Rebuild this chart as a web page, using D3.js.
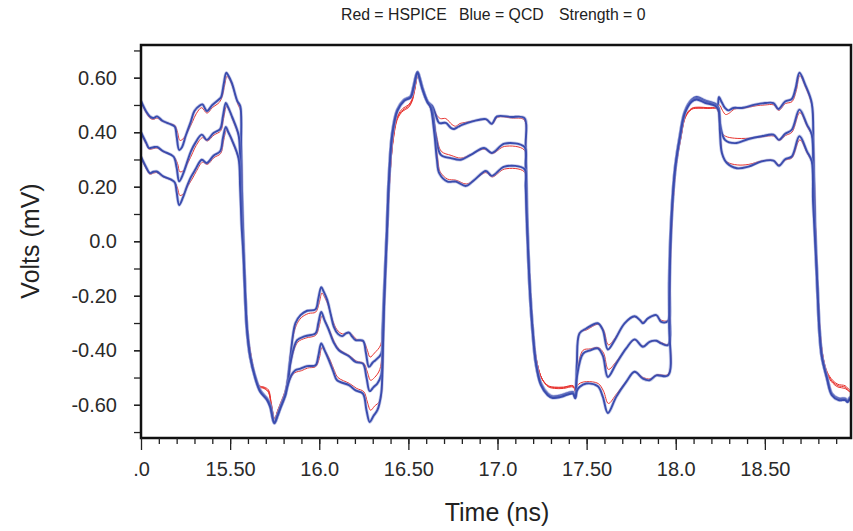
<!DOCTYPE html>
<html>
<head>
<meta charset="utf-8">
<script src="https://cdn.jsdelivr.net/npm/d3@7/dist/d3.min.js"></script>
<style>
  body { margin: 0; background: #fff; }
  svg { display: block; font-family: "Liberation Sans", Arial, Helvetica, sans-serif; }
</style>
</head>
<body>
<div class="chart"></div>
<script>
// waveforms: [time (ns), volts]
const qcdHigh = [
  [15.0, 0.515], [15.03, 0.475], [15.05, 0.458], [15.07, 0.452], [15.09, 0.458], [15.12, 0.442],
  [15.17, 0.428], [15.19, 0.42], [15.2, 0.385], [15.214, 0.335], [15.23, 0.345], [15.25, 0.385],
  [15.28, 0.44], [15.3, 0.478], [15.33, 0.498], [15.345, 0.502], [15.37, 0.478], [15.4, 0.5],
  [15.44, 0.522], [15.45, 0.53], [15.465, 0.58], [15.478, 0.618], [15.49, 0.608], [15.51, 0.58],
  [15.54, 0.515], [15.557, 0.495], [15.562, 0.35], [15.568, 0.15], [15.575, 0.0], [15.585, -0.204],
  [15.595, -0.326], [15.613, -0.424], [15.641, -0.498], [15.669, -0.547], [15.707, -0.577],
  [15.725, -0.6], [15.748, -0.667], [15.765, -0.64], [15.782, -0.608], [15.81, -0.559],
  [15.825, -0.5], [15.838, -0.424], [15.866, -0.301], [15.895, -0.271], [15.932, -0.255],
  [15.979, -0.25], [15.995, -0.21], [16.011, -0.169], [16.025, -0.185], [16.045, -0.216],
  [16.065, -0.27], [16.082, -0.314], [16.105, -0.34], [16.129, -0.348], [16.15, -0.338],
  [16.167, -0.335], [16.185, -0.35], [16.204, -0.363], [16.245, -0.365], [16.262, -0.41],
  [16.279, -0.461], [16.3, -0.445], [16.316, -0.436], [16.348, -0.412], [16.355, -0.33],
  [16.363, -0.204], [16.372, -0.08], [16.38, 0.04], [16.391, 0.225], [16.41, 0.397],
  [16.438, 0.483], [16.476, 0.519], [16.513, 0.532], [16.53, 0.57], [16.551, 0.621],
  [16.565, 0.595], [16.579, 0.562], [16.607, 0.513], [16.635, 0.495], [16.655, 0.46],
  [16.673, 0.434], [16.71, 0.434], [16.74, 0.415], [16.757, 0.412], [16.78, 0.42], [16.804, 0.428],
  [16.86, 0.44], [16.935, 0.448], [16.968, 0.431], [16.997, 0.458], [17.076, 0.456], [17.151, 0.452],
  [17.158, 0.35], [17.163, 0.2], [17.168, 0.04], [17.176, -0.1], [17.184, -0.204], [17.197, -0.326],
  [17.216, -0.449], [17.244, -0.522], [17.282, -0.559], [17.31, -0.569], [17.357, -0.565],
  [17.423, -0.553], [17.436, -0.571], [17.445, -0.45], [17.46, -0.338], [17.498, -0.32],
  [17.563, -0.301], [17.591, -0.326], [17.619, -0.397], [17.657, -0.363], [17.713, -0.301],
  [17.769, -0.275], [17.8, -0.29], [17.816, -0.301], [17.844, -0.283], [17.891, -0.271],
  [17.919, -0.296], [17.957, -0.292], [17.963, -0.15], [17.97, 0.0], [17.985, 0.18],
  [17.999, 0.28], [18.023, 0.385], [18.051, 0.476], [18.089, 0.519], [18.117, 0.529],
  [18.164, 0.517], [18.22, 0.505], [18.235, 0.5], [18.242, 0.529], [18.258, 0.51], [18.276, 0.489],
  [18.295, 0.48], [18.323, 0.489], [18.37, 0.489], [18.445, 0.501], [18.501, 0.507],
  [18.548, 0.507], [18.576, 0.485], [18.614, 0.513], [18.651, 0.522], [18.672, 0.56],
  [18.694, 0.618], [18.726, 0.575], [18.763, 0.507], [18.772, 0.35], [18.777, 0.2], [18.782, 0.04],
  [18.797, -0.204], [18.806, -0.326], [18.82, -0.424], [18.848, -0.498], [18.876, -0.559],
  [18.914, -0.577], [18.951, -0.577], [18.964, -0.586], [18.975, -0.575], [19.0, -0.562]
];

const qcdMid = [
  [15.0, 0.4], [15.03, 0.36], [15.045, 0.342], [15.07, 0.345], [15.09, 0.346], [15.125, 0.33],
  [15.182, 0.311], [15.2, 0.27], [15.214, 0.22], [15.235, 0.245], [15.257, 0.287], [15.28, 0.33],
  [15.304, 0.36], [15.341, 0.391], [15.369, 0.372], [15.407, 0.397], [15.444, 0.412],
  [15.46, 0.46], [15.476, 0.507], [15.49, 0.49], [15.51, 0.458], [15.547, 0.391], [15.555, 0.33],
  [15.562, 0.2], [15.57, 0.04], [15.585, -0.204], [15.595, -0.326], [15.613, -0.424],
  [15.641, -0.5], [15.669, -0.55], [15.707, -0.58], [15.725, -0.605], [15.748, -0.667],
  [15.765, -0.64], [15.782, -0.61], [15.81, -0.562], [15.825, -0.52], [15.838, -0.449],
  [15.876, -0.363], [15.922, -0.348], [15.979, -0.338], [15.995, -0.3], [16.011, -0.259],
  [16.03, -0.29], [16.054, -0.326], [16.08, -0.37], [16.11, -0.4], [16.167, -0.422],
  [16.204, -0.443], [16.245, -0.449], [16.265, -0.5], [16.283, -0.55], [16.305, -0.535],
  [16.326, -0.522], [16.348, -0.49], [16.356, -0.38], [16.363, -0.22], [16.372, -0.08],
  [16.38, 0.04], [16.391, 0.225], [16.41, 0.395], [16.438, 0.48], [16.476, 0.517],
  [16.513, 0.53], [16.53, 0.568], [16.551, 0.62], [16.565, 0.594], [16.579, 0.56],
  [16.607, 0.512], [16.63, 0.49], [16.654, 0.385], [16.682, 0.317], [16.738, 0.305],
  [16.794, 0.299], [16.85, 0.317], [16.925, 0.342], [16.968, 0.324], [17.039, 0.358],
  [17.151, 0.346], [17.158, 0.28], [17.163, 0.15], [17.168, 0.04], [17.176, -0.1],
  [17.184, -0.204], [17.197, -0.326], [17.216, -0.449], [17.244, -0.525], [17.282, -0.562],
  [17.31, -0.572], [17.357, -0.568], [17.423, -0.556], [17.436, -0.573], [17.445, -0.5],
  [17.48, -0.412], [17.52, -0.4], [17.563, -0.393], [17.591, -0.42], [17.619, -0.498],
  [17.666, -0.449], [17.722, -0.393], [17.769, -0.36], [17.816, -0.387], [17.853, -0.369],
  [17.891, -0.365], [17.919, -0.375], [17.957, -0.381], [17.963, -0.2], [17.97, 0.0],
  [17.985, 0.18], [17.999, 0.28], [18.023, 0.383], [18.051, 0.473], [18.089, 0.515],
  [18.117, 0.524], [18.164, 0.512], [18.22, 0.5], [18.24, 0.49], [18.248, 0.434],
  [18.276, 0.372], [18.332, 0.36], [18.408, 0.375], [18.482, 0.385], [18.548, 0.391],
  [18.579, 0.372], [18.614, 0.394], [18.651, 0.409], [18.694, 0.483], [18.736, 0.428],
  [18.763, 0.391], [18.772, 0.25], [18.782, 0.04], [18.797, -0.204], [18.806, -0.326],
  [18.82, -0.424], [18.848, -0.5], [18.876, -0.562], [18.914, -0.58], [18.951, -0.58],
  [18.964, -0.588], [18.975, -0.578], [19.0, -0.565]
];

const qcdLow = [
  [15.0, 0.31], [15.03, 0.27], [15.05, 0.25], [15.07, 0.255], [15.088, 0.256], [15.125, 0.238],
  [15.172, 0.225], [15.19, 0.215], [15.2, 0.18], [15.214, 0.133], [15.235, 0.16], [15.257, 0.2],
  [15.28, 0.235], [15.304, 0.262], [15.341, 0.299], [15.369, 0.287], [15.407, 0.314],
  [15.444, 0.33], [15.46, 0.38], [15.476, 0.419], [15.49, 0.4], [15.51, 0.372], [15.547, 0.305],
  [15.556, 0.2], [15.565, 0.05], [15.575, -0.05], [15.585, -0.204], [15.595, -0.326],
  [15.613, -0.424], [15.641, -0.502], [15.669, -0.552], [15.707, -0.582], [15.725, -0.608],
  [15.748, -0.667], [15.765, -0.642], [15.782, -0.612], [15.81, -0.565], [15.82, -0.535],
  [15.845, -0.49], [15.866, -0.473], [15.895, -0.467], [15.932, -0.458], [15.979, -0.455],
  [15.995, -0.42], [16.011, -0.375], [16.03, -0.4], [16.054, -0.436], [16.08, -0.48],
  [16.1, -0.51], [16.167, -0.528], [16.204, -0.547], [16.245, -0.559], [16.265, -0.62],
  [16.283, -0.663], [16.305, -0.64], [16.326, -0.62], [16.348, -0.557], [16.356, -0.42],
  [16.363, -0.25], [16.372, -0.09], [16.38, 0.04], [16.391, 0.225], [16.41, 0.393],
  [16.438, 0.478], [16.476, 0.515], [16.513, 0.528], [16.53, 0.566], [16.551, 0.619],
  [16.565, 0.592], [16.579, 0.558], [16.607, 0.51], [16.625, 0.49], [16.645, 0.4],
  [16.66, 0.3], [16.673, 0.25], [16.72, 0.219], [16.767, 0.219], [16.823, 0.203],
  [16.87, 0.225], [16.935, 0.258], [16.968, 0.24], [17.039, 0.274], [17.151, 0.265],
  [17.158, 0.2], [17.163, 0.1], [17.168, 0.02], [17.176, -0.1], [17.184, -0.204],
  [17.197, -0.326], [17.216, -0.449], [17.244, -0.528], [17.282, -0.565], [17.31, -0.575],
  [17.357, -0.571], [17.423, -0.559], [17.436, -0.576], [17.445, -0.55], [17.46, -0.535],
  [17.498, -0.522], [17.563, -0.532], [17.591, -0.571], [17.619, -0.63], [17.666, -0.571],
  [17.722, -0.516], [17.769, -0.479], [17.816, -0.504], [17.853, -0.51], [17.891, -0.492],
  [17.957, -0.492], [17.963, -0.3], [17.97, -0.02], [17.985, 0.18], [17.999, 0.28],
  [18.023, 0.38], [18.051, 0.47], [18.089, 0.512], [18.117, 0.52], [18.164, 0.508],
  [18.22, 0.497], [18.24, 0.48], [18.248, 0.4], [18.259, 0.324], [18.287, 0.287],
  [18.343, 0.268], [18.408, 0.274], [18.482, 0.293], [18.548, 0.296], [18.579, 0.277],
  [18.614, 0.301], [18.651, 0.311], [18.694, 0.385], [18.736, 0.33], [18.763, 0.293],
  [18.77, 0.15], [18.778, 0.05], [18.79, -0.1], [18.797, -0.204], [18.806, -0.326],
  [18.82, -0.424], [18.848, -0.502], [18.876, -0.565], [18.914, -0.583], [18.951, -0.583],
  [18.964, -0.59], [18.975, -0.58], [19.0, -0.568]
];

const hspiceHigh = [
  [15.0, 0.51], [15.03, 0.47], [15.05, 0.452], [15.07, 0.447], [15.09, 0.452], [15.12, 0.44],
  [15.17, 0.43], [15.19, 0.425], [15.205, 0.4], [15.218, 0.37], [15.235, 0.375], [15.26, 0.4],
  [15.29, 0.44], [15.31, 0.468], [15.34, 0.49], [15.37, 0.47], [15.4, 0.49], [15.44, 0.51],
  [15.455, 0.53], [15.47, 0.575], [15.482, 0.605], [15.495, 0.595], [15.515, 0.565],
  [15.545, 0.5], [15.558, 0.48], [15.564, 0.3], [15.57, 0.1], [15.578, -0.05], [15.588, -0.22],
  [15.6, -0.34], [15.62, -0.43], [15.645, -0.5], [15.665, -0.53], [15.69, -0.535],
  [15.715, -0.545], [15.73, -0.59], [15.75, -0.652], [15.767, -0.62], [15.785, -0.59],
  [15.81, -0.545], [15.83, -0.47], [15.845, -0.38], [15.87, -0.31], [15.9, -0.28],
  [15.94, -0.265], [15.98, -0.26], [16.0, -0.225], [16.015, -0.19], [16.03, -0.205],
  [16.05, -0.235], [16.075, -0.29], [16.1, -0.325], [16.13, -0.34], [16.17, -0.336],
  [16.21, -0.36], [16.25, -0.37], [16.27, -0.4], [16.285, -0.425], [16.31, -0.41],
  [16.345, -0.38], [16.356, -0.3], [16.365, -0.19], [16.374, -0.06], [16.383, 0.05],
  [16.395, 0.22], [16.415, 0.38], [16.44, 0.46], [16.47, 0.488], [16.5, 0.5], [16.52, 0.52],
  [16.535, 0.56], [16.553, 0.61], [16.567, 0.59], [16.582, 0.555], [16.61, 0.51],
  [16.638, 0.49], [16.66, 0.462], [16.68, 0.45], [16.71, 0.45], [16.745, 0.428],
  [16.765, 0.422], [16.79, 0.432], [16.82, 0.436], [16.87, 0.442], [16.935, 0.446],
  [16.97, 0.43], [17.0, 0.455], [17.08, 0.452], [17.15, 0.445], [17.158, 0.34],
  [17.164, 0.18], [17.17, 0.02], [17.18, -0.12], [17.188, -0.22], [17.2, -0.33],
  [17.22, -0.44], [17.25, -0.505], [17.285, -0.53], [17.32, -0.535], [17.37, -0.535],
  [17.425, -0.53], [17.438, -0.55], [17.447, -0.44], [17.462, -0.335], [17.5, -0.325],
  [17.565, -0.305], [17.595, -0.325], [17.622, -0.38], [17.66, -0.355], [17.715, -0.3],
  [17.77, -0.277], [17.815, -0.297], [17.845, -0.282], [17.89, -0.272], [17.92, -0.29],
  [17.957, -0.29], [17.965, -0.14], [17.973, 0.0], [17.988, 0.17], [18.003, 0.28],
  [18.028, 0.38], [18.055, 0.46], [18.09, 0.488], [18.13, 0.492], [18.18, 0.49],
  [18.23, 0.49], [18.245, 0.5], [18.262, 0.48], [18.28, 0.465], [18.3, 0.47], [18.33, 0.485],
  [18.38, 0.488], [18.45, 0.497], [18.5, 0.5], [18.55, 0.5], [18.578, 0.48], [18.615, 0.505],
  [18.652, 0.512], [18.675, 0.55], [18.696, 0.608], [18.728, 0.565], [18.765, 0.495],
  [18.774, 0.33], [18.78, 0.18], [18.786, 0.03], [18.8, -0.21], [18.81, -0.33],
  [18.825, -0.42], [18.85, -0.48], [18.88, -0.51], [18.91, -0.525], [18.95, -0.53],
  [18.975, -0.545], [19.0, -0.548]
];

const hspiceMid = [
  [15.0, 0.395], [15.03, 0.355], [15.045, 0.338], [15.07, 0.34], [15.09, 0.342], [15.125, 0.328],
  [15.182, 0.312], [15.205, 0.285], [15.218, 0.255], [15.24, 0.26], [15.265, 0.29],
  [15.29, 0.325], [15.31, 0.352], [15.345, 0.38], [15.372, 0.368], [15.41, 0.39],
  [15.447, 0.405], [15.463, 0.45], [15.48, 0.495], [15.495, 0.48], [15.515, 0.445],
  [15.55, 0.38], [15.558, 0.3], [15.566, 0.15], [15.574, 0.02], [15.588, -0.22], [15.6, -0.34],
  [15.62, -0.43], [15.645, -0.502], [15.665, -0.532], [15.69, -0.538], [15.715, -0.55],
  [15.73, -0.595], [15.75, -0.652], [15.767, -0.622], [15.785, -0.594], [15.81, -0.55],
  [15.83, -0.495], [15.845, -0.43], [15.88, -0.37], [15.925, -0.355], [15.98, -0.345],
  [16.0, -0.31], [16.015, -0.275], [16.035, -0.295], [16.06, -0.33], [16.085, -0.37],
  [16.115, -0.398], [16.17, -0.42], [16.21, -0.44], [16.25, -0.448], [16.27, -0.48],
  [16.288, -0.51], [16.31, -0.5], [16.34, -0.47], [16.357, -0.35], [16.366, -0.2],
  [16.375, -0.06], [16.383, 0.05], [16.395, 0.22], [16.415, 0.375], [16.44, 0.455],
  [16.47, 0.482], [16.5, 0.495], [16.52, 0.516], [16.535, 0.556], [16.553, 0.608],
  [16.567, 0.588], [16.582, 0.552], [16.61, 0.508], [16.633, 0.48], [16.657, 0.39],
  [16.685, 0.33], [16.74, 0.315], [16.795, 0.305], [16.85, 0.318], [16.925, 0.338],
  [16.97, 0.322], [17.04, 0.348], [17.15, 0.335], [17.158, 0.26], [17.164, 0.12],
  [17.17, 0.0], [17.18, -0.12], [17.188, -0.22], [17.2, -0.33], [17.22, -0.44],
  [17.25, -0.505], [17.285, -0.532], [17.32, -0.537], [17.37, -0.537], [17.425, -0.532],
  [17.438, -0.552], [17.448, -0.48], [17.48, -0.4], [17.52, -0.395], [17.565, -0.39],
  [17.595, -0.41], [17.622, -0.47], [17.668, -0.44], [17.725, -0.39], [17.77, -0.362],
  [17.818, -0.385], [17.855, -0.368], [17.893, -0.365], [17.92, -0.372], [17.957, -0.378],
  [17.965, -0.2], [17.973, 0.0], [17.988, 0.17], [18.003, 0.28], [18.028, 0.378],
  [18.055, 0.458], [18.09, 0.486], [18.13, 0.49], [18.18, 0.489], [18.23, 0.488],
  [18.245, 0.45], [18.256, 0.4], [18.28, 0.385], [18.33, 0.378], [18.41, 0.378],
  [18.485, 0.383], [18.55, 0.386], [18.58, 0.37], [18.616, 0.388], [18.652, 0.4],
  [18.696, 0.472], [18.738, 0.42], [18.765, 0.385], [18.774, 0.24], [18.786, 0.02],
  [18.8, -0.21], [18.81, -0.33], [18.825, -0.42], [18.85, -0.485], [18.88, -0.515],
  [18.91, -0.53], [18.95, -0.535], [18.975, -0.55], [19.0, -0.552]
];

const hspiceLow = [
  [15.0, 0.305], [15.03, 0.265], [15.05, 0.246], [15.07, 0.25], [15.088, 0.252], [15.125, 0.236],
  [15.172, 0.224], [15.19, 0.216], [15.205, 0.195], [15.218, 0.168], [15.24, 0.175],
  [15.265, 0.205], [15.29, 0.232], [15.31, 0.256], [15.345, 0.29], [15.372, 0.282],
  [15.41, 0.307], [15.447, 0.322], [15.463, 0.368], [15.48, 0.408], [15.495, 0.39],
  [15.515, 0.36], [15.55, 0.295], [15.558, 0.2], [15.566, 0.06], [15.578, -0.06],
  [15.588, -0.22], [15.6, -0.34], [15.62, -0.43], [15.645, -0.505], [15.665, -0.535],
  [15.69, -0.54], [15.715, -0.555], [15.73, -0.6], [15.75, -0.652], [15.767, -0.625],
  [15.785, -0.598], [15.81, -0.555], [15.825, -0.525], [15.85, -0.49], [15.87, -0.48],
  [15.9, -0.475], [15.935, -0.465], [15.98, -0.46], [16.0, -0.43], [16.015, -0.39],
  [16.035, -0.405], [16.06, -0.435], [16.085, -0.475], [16.105, -0.5], [16.17, -0.522],
  [16.21, -0.54], [16.25, -0.552], [16.27, -0.59], [16.288, -0.62], [16.31, -0.605],
  [16.34, -0.585], [16.355, -0.48], [16.363, -0.3], [16.374, -0.1], [16.383, 0.04],
  [16.395, 0.22], [16.415, 0.37], [16.44, 0.45], [16.47, 0.478], [16.5, 0.49],
  [16.52, 0.512], [16.535, 0.552], [16.553, 0.605], [16.567, 0.585], [16.582, 0.55],
  [16.61, 0.506], [16.628, 0.48], [16.648, 0.39], [16.665, 0.3], [16.678, 0.255],
  [16.72, 0.228], [16.767, 0.224], [16.825, 0.21], [16.87, 0.225], [16.935, 0.252],
  [16.97, 0.236], [17.04, 0.265], [17.15, 0.255], [17.158, 0.18], [17.164, 0.08],
  [17.17, -0.01], [17.18, -0.12], [17.188, -0.22], [17.2, -0.33], [17.22, -0.44],
  [17.25, -0.505], [17.285, -0.534], [17.32, -0.54], [17.37, -0.54], [17.425, -0.535],
  [17.438, -0.555], [17.447, -0.53], [17.465, -0.52], [17.5, -0.515], [17.565, -0.522],
  [17.595, -0.55], [17.622, -0.595], [17.668, -0.56], [17.725, -0.512], [17.77, -0.48],
  [17.818, -0.5], [17.855, -0.505], [17.893, -0.49], [17.957, -0.488], [17.965, -0.3],
  [17.973, -0.03], [17.988, 0.17], [18.003, 0.28], [18.028, 0.375], [18.055, 0.455],
  [18.09, 0.484], [18.13, 0.488], [18.18, 0.487], [18.23, 0.486], [18.245, 0.44],
  [18.253, 0.36], [18.265, 0.31], [18.29, 0.29], [18.345, 0.28], [18.41, 0.282],
  [18.485, 0.295], [18.55, 0.296], [18.58, 0.28], [18.616, 0.298], [18.652, 0.306],
  [18.696, 0.372], [18.738, 0.322], [18.765, 0.288], [18.772, 0.15], [18.78, 0.04],
  [18.79, -0.1], [18.8, -0.21], [18.81, -0.33], [18.825, -0.42], [18.85, -0.49],
  [18.88, -0.52], [18.91, -0.535], [18.95, -0.54], [18.975, -0.552], [19.0, -0.556]
];

const xMajorTicks = [15.0, 15.5, 16.0, 16.5, 17.0, 17.5, 18.0, 18.5];
const xTickLabels = [".0", "15.50", "16.0", "16.50", "17.0", "17.50", "18.0", "18.50"];
const yMajorTicks = [-0.6, -0.4, -0.2, 0.0, 0.2, 0.4, 0.6];
const yTickLabels = ["-0.60", "-0.40", "-0.20", "0.0", "0.20", "0.40", "0.60"];
const titleParts = ["Red = HSPICE", "Blue = QCD", "Strength = 0"];

const width = 853;
const height = 531;
const plot = { left: 141, right: 851, top: 45, bottom: 438 };

const svg = d3
  .select(".chart")
  .append("svg")
  .attr("width", width)
  .attr("height", height);

const xScale = d3.scaleLinear().domain([15, 19]).range([141, 854]);
const yScale = d3.scaleLinear().domain([-0.72, 0.72]).range([437.5, 45]);

// title, three pieces spaced like the original
const titleX = [341, 459, 559];
svg
  .append("text")
  .attr("y", 20)
  .style("font-size", "15.8px")
  .attr("fill", "#222")
  .selectAll("tspan")
  .data(titleParts)
  .enter()
  .append("tspan")
  .attr("x", (d, i) => titleX[i])
  .text((d) => d);

// curves
svg
  .append("clipPath")
  .attr("id", "plotclip")
  .append("rect")
  .attr("x", plot.left)
  .attr("y", plot.top)
  .attr("width", plot.right - plot.left)
  .attr("height", plot.bottom - plot.top);

const line = d3
  .line()
  .x((d) => xScale(d[0]))
  .y((d) => yScale(d[1]))
  .curve(d3.curveCatmullRom.alpha(0.5));

const curves = svg.append("g").attr("clip-path", "url(#plotclip)");

[hspiceHigh, hspiceMid, hspiceLow].forEach((s) => {
  curves
    .append("path")
    .datum(s)
    .attr("d", line)
    .attr("fill", "none")
    .attr("stroke", "#e8322e")
    .attr("stroke-width", 1);
});

[qcdHigh, qcdMid, qcdLow].forEach((s) => {
  curves
    .append("path")
    .datum(s)
    .attr("d", line)
    .attr("fill", "none")
    .attr("stroke", "#8f9ad6")
    .attr("stroke-opacity", 0.5)
    .attr("stroke-width", 3.4);
  curves
    .append("path")
    .datum(s)
    .attr("d", line)
    .attr("fill", "none")
    .attr("stroke", "#3a4cae")
    .attr("stroke-width", 1.9);
});

// frame
svg
  .append("rect")
  .attr("x", plot.left)
  .attr("y", plot.top)
  .attr("width", plot.right - plot.left)
  .attr("height", plot.bottom - plot.top)
  .attr("fill", "none")
  .attr("stroke", "#111")
  .attr("stroke-width", 2.5);

// x axis: minor + major ticks
const xMinor = d3.range(151, 190).map((d) => d / 10);
const xAxisMinor = svg
  .append("g")
  .attr("transform", "translate(0," + plot.bottom + ")")
  .call(d3.axisBottom(xScale).tickValues(xMinor).tickSize(6).tickFormat(""));

const xAxisMajor = svg
  .append("g")
  .attr("transform", "translate(0," + plot.bottom + ")")
  .call(
    d3
      .axisBottom(xScale)
      .tickValues(xMajorTicks)
      .tickSize(12)
      .tickPadding(12)
      .tickFormat((d, i) => xTickLabels[i])
  );

// y axis
const yMinor = d3.range(-7, 8).map((d) => d / 10);
const yAxisMinor = svg
  .append("g")
  .attr("transform", "translate(" + (plot.left - 1) + ",0)")
  .call(d3.axisLeft(yScale).tickValues(yMinor).tickSize(6).tickFormat(""));

const yAxisMajor = svg
  .append("g")
  .attr("transform", "translate(" + (plot.left - 1) + ",0)")
  .call(
    d3
      .axisLeft(yScale)
      .tickValues(yMajorTicks)
      .tickSize(6)
      .tickPadding(17)
      .tickFormat((d, i) => yTickLabels[i])
  );

[xAxisMinor, xAxisMajor, yAxisMinor, yAxisMajor].forEach((g) => {
  g.select(".domain").remove();
  g.selectAll("line").attr("stroke", "#222").attr("stroke-width", 1.3);
  g.selectAll("text")
    .style("font-size", "20px")
    .style("font-family", '"Liberation Sans", Arial, sans-serif')
    .attr("fill", "#2a2a2a");
});

// axis titles
svg
  .append("text")
  .attr("x", 497)
  .attr("y", 521)
  .attr("text-anchor", "middle")
  .style("font-size", "25px")
  .attr("fill", "#222")
  .text("Time (ns)");

svg
  .append("text")
  .attr("transform", "rotate(-90)")
  .attr("x", -241)
  .attr("y", 39)
  .attr("text-anchor", "middle")
  .style("font-size", "25px")
  .attr("fill", "#222")
  .text("Volts (mV)");
</script>
</body>
</html>
